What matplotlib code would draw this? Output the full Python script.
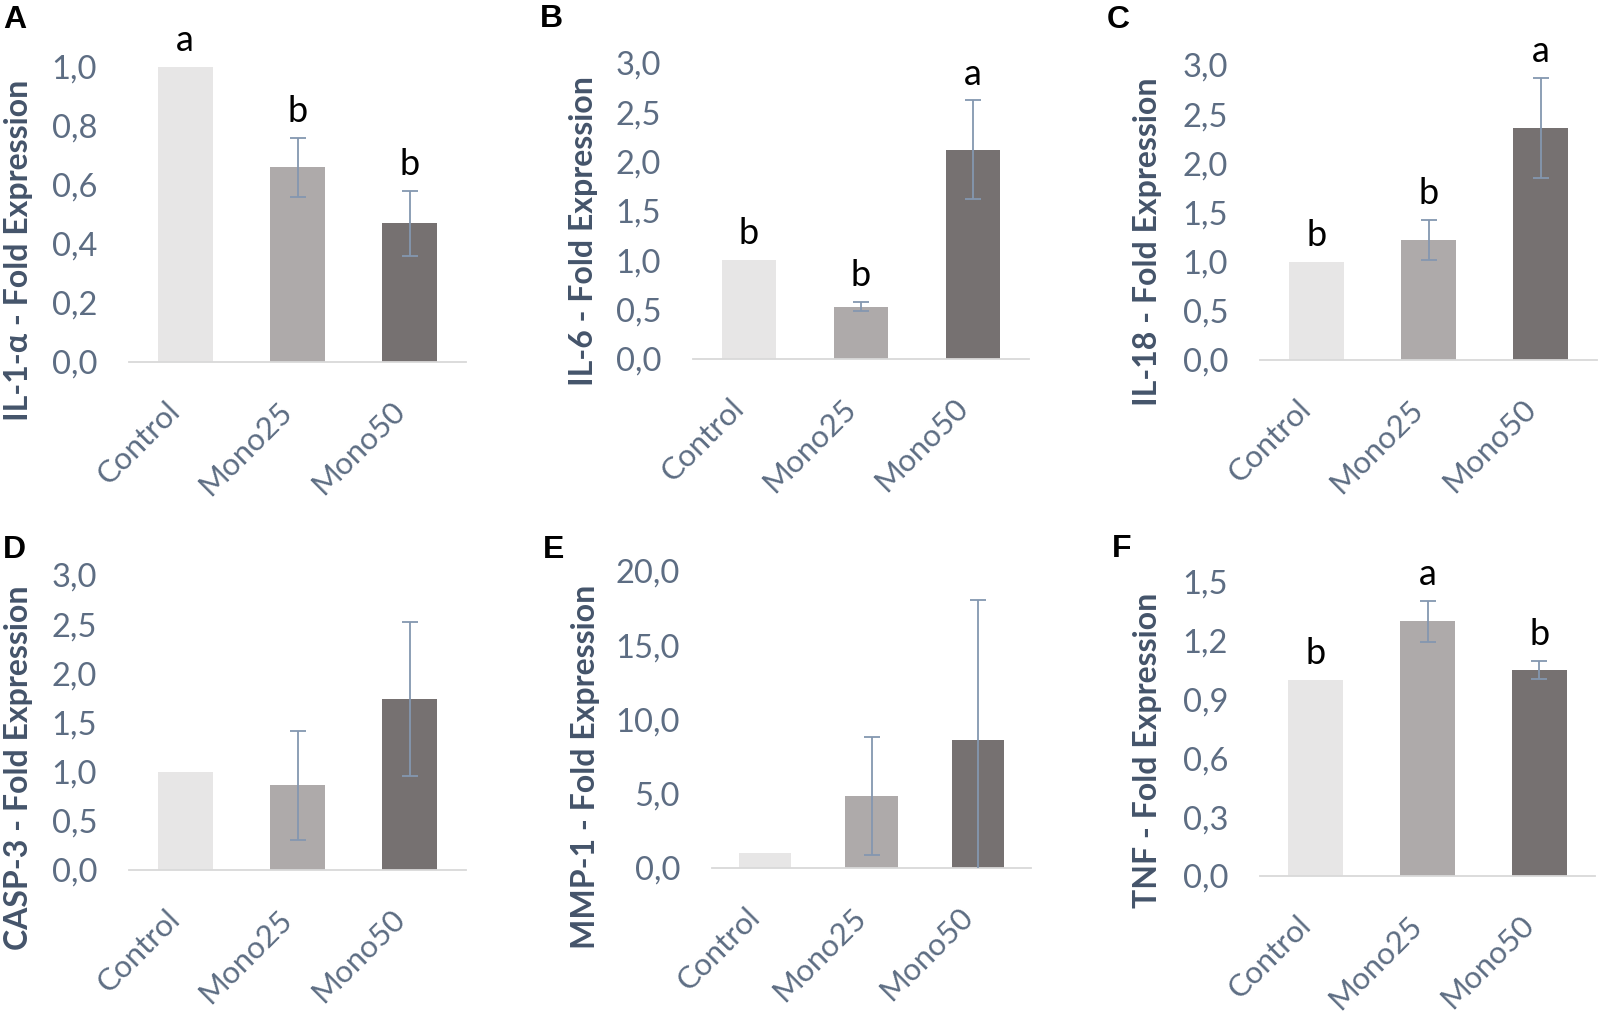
import matplotlib
matplotlib.use("Agg")
import matplotlib.pyplot as plt
import matplotlib.transforms as mtransforms

plt.rcParams['font.family'] = ['Lato', 'DejaVu Sans']

groups = ["Control", "Mono25", "Mono50"]
bar_colors = ["#e7e6e6", "#aeaaaa", "#767171"]

# fold expression values (mean, error)
il1a_mean = [1.00, 0.66, 0.47]
il1a_err = [0.0, 0.10, 0.11]
il1a_sig = ["a", "b", "b"]

il6_mean = [1.00, 0.53, 2.12]
il6_err = [0.0, 0.045, 0.50]
il6_sig = ["b", "b", "a"]

il18_mean = [1.00, 1.22, 2.36]
il18_err = [0.0, 0.20, 0.51]
il18_sig = ["b", "b", "a"]

casp3_mean = [1.00, 0.86, 1.74]
casp3_err = [0.0, 0.555, 0.78]
casp3_sig = None

mmp1_mean = [1.00, 4.85, 8.6]
mmp1_err = [0.0, 3.95, 9.45]
mmp1_sig = None

tnf_mean = [1.00, 1.30, 1.05]
tnf_err = [0.0, 0.105, 0.045]
tnf_sig = ["b", "a", "b"]

ylabels = ["IL-1-\u03b1 - Fold Expression", "IL-6 - Fold Expression",
           "IL-18 - Fold Expression", "CASP-3 - Fold Expression",
           "MMP-1 - Fold Expression", "TNF - Fold Expression"]
panel_letters = ["A", "B", "C", "D", "E", "F"]
yticks_list = [
    [0.0, 0.2, 0.4, 0.6, 0.8, 1.0],
    [0.0, 0.5, 1.0, 1.5, 2.0, 2.5, 3.0],
    [0.0, 0.5, 1.0, 1.5, 2.0, 2.5, 3.0],
    [0.0, 0.5, 1.0, 1.5, 2.0, 2.5, 3.0],
    [0.0, 5.0, 10.0, 15.0, 20.0],
    [0.0, 0.3, 0.6, 0.9, 1.2, 1.5],
]

means = [il1a_mean, il6_mean, il18_mean, casp3_mean, mmp1_mean, tnf_mean]
errs = [il1a_err, il6_err, il18_err, casp3_err, mmp1_err, tnf_err]
sigs = [il1a_sig, il6_sig, il18_sig, casp3_sig, mmp1_sig, tnf_sig]

# layout in pixels: x0, x1, ytop, ybase, ylabel x, ylabel y, letter x, letter baseline
layout = [
    (129, 466, 67, 362, 19, 250, 3, 28),
    (693, 1029, 63, 359, 583, 231, 540, 27),
    (1260, 1597, 65, 360, 1148, 242, 1107, 28),
    (129, 466, 575, 870, 19, 768, 3, 558),
    (712, 1031, 571, 868, 585, 767, 543, 558),
    (1260, 1595, 582, 876, 1148, 750, 1112, 557),
]

W, H = 1600, 1013
fig = plt.figure(figsize=(16, 10.13), dpi=100)

tick_col = "#5d6d83"
lab_col = "#44546a"
err_col = "#8497b0"

for i in range(6):
    x0, x1, yt, yb, lx, ly, px, py = layout[i]
    ax = fig.add_axes([x0 / W, 1 - yb / H, (x1 - x0) / W, (yb - yt) / H])
    xs = range(len(groups))
    ax.bar(xs, means[i], width=0.49, color=bar_colors, zorder=2)
    ax.errorbar([1, 2], means[i][1:], yerr=errs[i][1:], fmt="none",
                ecolor=err_col, elinewidth=1.3, capsize=6, capthick=1.3, zorder=3)
    ax.set_xlim(-0.5, 2.5)
    ax.set_ylim(0, yticks_list[i][-1])
    ax.set_yticks(yticks_list[i])
    ax.set_yticklabels([f"{t:.1f}".replace(".", ",") for t in yticks_list[i]])
    ax.set_xticks(list(xs))
    ax.set_xticklabels(groups, rotation=45, ha="right", va="top")
    off = mtransforms.ScaledTranslation(13 / 100, 0, fig.dpi_scale_trans)
    for lbl in ax.get_xticklabels():
        lbl.set_transform(lbl.get_transform() + off)
    ax.tick_params(axis="y", length=0, labelsize=23.5, colors=tick_col, pad=23)
    ax.tick_params(axis="x", length=0, labelsize=22.5, colors=tick_col, pad=25)
    for s in ["top", "right", "left"]:
        ax.spines[s].set_visible(False)
    ax.spines["bottom"].set_color("#d9d9d9")
    ax.spines["bottom"].set_linewidth(1.3)
    if sigs[i] is not None:
        for j, s in enumerate(sigs[i]):
            ax.annotate(s, (j, means[i][j] + errs[i][j]), xytext=(0, 19),
                        textcoords="offset points", ha="center", va="center",
                        fontsize=26, color="black", annotation_clip=False)
    fig.text(lx / W, 1 - ly / H, ylabels[i], rotation=90, ha="center", va="center",
             fontsize=23, fontweight="bold", color=lab_col)
    fig.text(px / W, 1 - py / H, panel_letters[i], ha="left", va="baseline",
             fontsize=23, fontweight="bold", color="black",
             family=["Liberation Sans", "DejaVu Sans"])

fig.savefig("out.png", dpi=100, facecolor="white")
